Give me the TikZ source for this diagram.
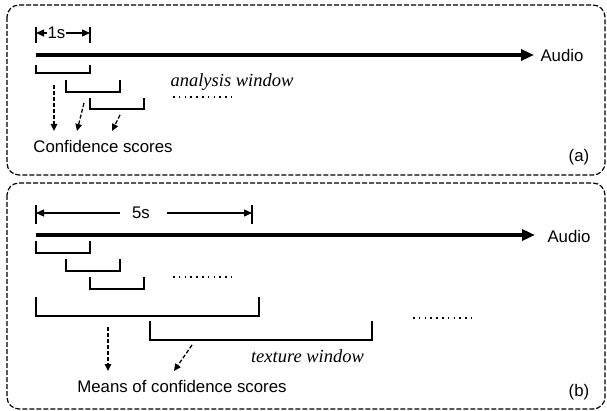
\documentclass[tikz,border=0pt]{standalone}
\usepackage{fontspec}
\setmainfont{Liberation Sans}
\newfontfamily\serifit{Liberation Serif}
\usetikzlibrary{arrows.meta}
\begin{document}
\begin{tikzpicture}[x=1pt,y=-1pt,
 panel/.style={draw, dash pattern=on 5pt off 2pt, line width=1.2pt, rounded corners=12pt},
 thinbr/.style={line width=1.3pt},
 thickbr/.style={line width=2.5pt},
 audio/.style={line width=3.6pt,-{Triangle[length=13pt,width=11pt]}},
 dimarr/.style={line width=1.3pt,-{Triangle[length=8pt,width=7pt]}},
 dasharr/.style={dash pattern=on 4pt off 2pt, line width=1.3pt, -{Triangle[length=7pt,width=6.5pt]}},
 lbl/.style={font=\fontsize{16.8}{18}\selectfont, inner sep=0pt},
 ital/.style={font=\serifit\itshape\fontsize{18.5}{20}\selectfont, inner sep=0pt},
 dots/.style={dash pattern=on 1.6pt off 4.2pt, line width=1.7pt}
]
\useasboundingbox (0,0) rectangle (607,411);
% panels
\draw[panel] (7,5) rectangle (605,175);
\draw[panel] (7,183) rectangle (605,409);

% ---------- panel (a) ----------
\coordinate (a1t) at (36,27); \coordinate (a1b) at (36,43);
\coordinate (a2t) at (90,27); \coordinate (a2b) at (90,43);
\coordinate (a1m) at (36,33); \coordinate (a2m) at (90,33);
\draw[thinbr] (a1t) -- (a1b);
\draw[thinbr] (a2t) -- (a2b);
\node[lbl] (s1) at (56.5,33) {1s};
\draw[dimarr] (s1.west) -- (a1m);
\draw[dimarr] (s1.east) -- (a2m);

\coordinate (aud1s) at (36,55); \coordinate (aud1e) at (534,55);
\draw[audio] (aud1s) -- (aud1e);
\node[lbl] (audioA) at (562,55) {Audio};

\draw[thinbr] (36,65) -- (36,73) -- (90,73) -- (90,65);
\draw[thinbr] (66,80) -- (66,92) -- (120,92) -- (120,80);
\draw[thinbr] (90,98) -- (90,109) -- (144,109) -- (144,98);

\node[ital] (aw) at (232,82) {analysis window};
\coordinate (dA1) at (173,97); \coordinate (dA2) at (232,97);
\draw[dots] (dA1) -- (dA2);

\node[lbl] (conf) at (103,146) {Confidence scores};
\coordinate (ar1s) at (54,85);  \coordinate (ar1e) at (54,131);
\coordinate (ar2s) at (84,103); \coordinate (ar2e) at (77,131);
\coordinate (ar3s) at (120,115);\coordinate (ar3e) at (112,131);
\draw[dasharr] (ar1s) -- (ar1e);
\draw[dasharr] (ar2s) -- (ar2e);
\draw[dasharr] (ar3s) -- (ar3e);

\node[lbl] (la) at (579,157) {(a)};

% ---------- panel (b) ----------
\coordinate (b1t) at (36,205); \coordinate (b1b) at (36,224);
\coordinate (b2t) at (252,205); \coordinate (b2b) at (252,224);
\draw[thinbr] (b1t) -- (b1b);
\draw[thinbr] (b2t) -- (b2b);
\node[lbl] (s5) at (141,213) {5s};
\coordinate (b5l) at (120,213); \coordinate (b5r) at (167,213);
\coordinate (b1m) at (36,213); \coordinate (b2m) at (252,213);
\draw[dimarr] (b5l) -- (b1m);
\draw[dimarr] (b5r) -- (b2m);

\coordinate (aud2s) at (36,235); \coordinate (aud2e) at (535,235);
\draw[audio] (aud2s) -- (aud2e);
\node[lbl] (audioB) at (569,236) {Audio};

\draw[thinbr] (36,241) -- (36,253) -- (90,253) -- (90,241);
\draw[thinbr] (66,259) -- (66,271) -- (120,271) -- (120,259);
\draw[thinbr] (90,277) -- (90,289) -- (144,289) -- (144,277);
\coordinate (dB1) at (173,277); \coordinate (dB2) at (232,277);
\draw[dots] (dB1) -- (dB2);

\draw[thickbr] (36,297) -- (36,316) -- (259,316) -- (259,297);
\draw[thickbr] (150,321) -- (150,340) -- (372,340) -- (372,321);
\coordinate (dC1) at (413,318); \coordinate (dC2) at (472,318);
\draw[dots] (dC1) -- (dC2);

\node[ital] (tw) at (307.5,356) {texture window};

\node[lbl] (means) at (182,386) {Means of confidence scores};
\coordinate (br1s) at (108,327); \coordinate (br1e) at (108,371);
\coordinate (br2s) at (192,345); \coordinate (br2e) at (174,371);
\draw[dasharr] (br1s) -- (br1e);
\draw[dasharr] (br2s) -- (br2e);

\node[lbl] (lb) at (579,392) {(b)};
\end{tikzpicture}
\end{document}
